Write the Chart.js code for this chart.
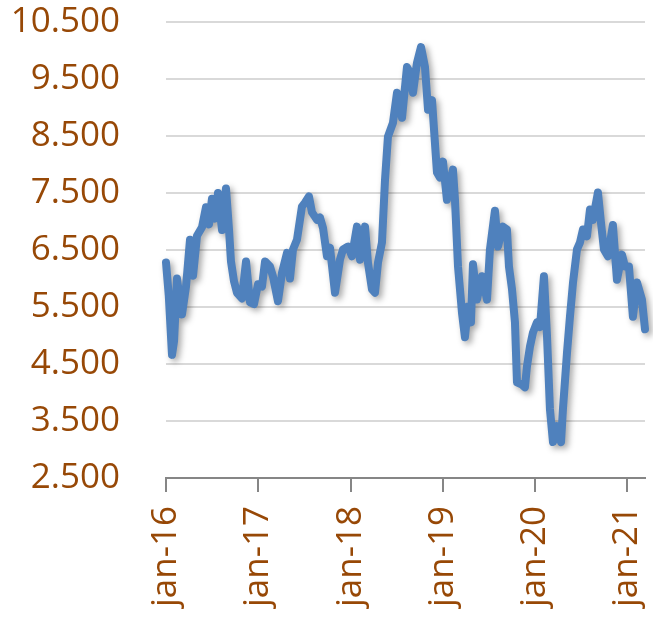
<!DOCTYPE html>
<html>
<head>
<meta charset="utf-8">
<script src="https://cdn.jsdelivr.net/npm/chart.js@4/dist/chart.umd.min.js"></script>
<style>
  html, body { margin: 0; padding: 0; background: #fff; overflow: hidden; }
  #wrap { position: relative; width: 654px; height: 625px; }
</style>
</head>
<body>
<div id="wrap"><canvas id="chart"></canvas></div>
<script>
// x position of each point, in decimal years (2016.00 = jan-16)
const xYears = [
  2016.00, 2016.03, 2016.065, 2016.087, 2016.119, 2016.152, 2016.173, 2016.217, 2016.26, 2016.293,
  2016.336, 2016.39, 2016.433, 2016.466, 2016.498, 2016.531, 2016.563, 2016.607, 2016.65, 2016.683,
  2016.704, 2016.737, 2016.769, 2016.823, 2016.867, 2016.91, 2016.953, 2016.997, 2017.04, 2017.073,
  2017.127, 2017.159, 2017.213, 2017.257, 2017.311, 2017.343, 2017.376, 2017.419, 2017.473, 2017.506,
  2017.549, 2017.582, 2017.636, 2017.668, 2017.701, 2017.744, 2017.777, 2017.831, 2017.885, 2017.918,
  2017.972, 2018.015, 2018.069, 2018.102, 2018.156, 2018.188, 2018.232, 2018.264, 2018.297, 2018.34,
  2018.373, 2018.405, 2018.459, 2018.503, 2018.557, 2018.611, 2018.644, 2018.676, 2018.719, 2018.763,
  2018.806, 2018.839, 2018.882, 2018.936, 2018.969, 2019.001, 2019.044, 2019.077, 2019.109, 2019.131,
  2019.164, 2019.207, 2019.239, 2019.272, 2019.304, 2019.326, 2019.369, 2019.424, 2019.478, 2019.51,
  2019.564, 2019.597, 2019.651, 2019.694, 2019.716, 2019.749, 2019.781, 2019.803, 2019.857, 2019.889,
  2019.911, 2019.944, 2019.976, 2020.019, 2020.052, 2020.095, 2020.128, 2020.16, 2020.193, 2020.236,
  2020.28, 2020.301, 2020.345, 2020.377, 2020.41, 2020.453, 2020.485, 2020.518, 2020.561, 2020.594,
  2020.626, 2020.68, 2020.713, 2020.745, 2020.788, 2020.842, 2020.886, 2020.94, 2020.973, 2021.016,
  2021.059, 2021.103, 2021.157, 2021.19
];

const values = [
  6280, 5700, 4660, 4900, 6000, 5600, 5370, 5860, 6680, 6050,
  6750, 6900, 7250, 6950, 7400, 7050, 7500, 6850, 7580, 6850,
  6300, 5950, 5750, 5650, 6300, 5580, 5550, 5900, 5860, 6300,
  6210, 6035, 5600, 6100, 6450, 6000, 6510, 6680, 7260, 7330,
  7440, 7160, 7030, 7070, 6890, 6390, 6540, 5750, 6330, 6510,
  6560, 6390, 6910, 6330, 6910, 6280, 5810, 5750, 6280, 6630,
  7730, 8490, 8730, 9260, 8820, 9710, 9610, 9260, 9780, 10060,
  9710, 8960, 9130, 7860, 7770, 8050, 7380, 7700, 7910, 7380,
  6210, 5400, 4970, 5510, 5230, 6250, 5630, 6040, 5630, 6510,
  7190, 6560, 6910, 6860, 6210, 5810, 5230, 4180, 4140, 4090,
  4460, 4810, 5050, 5230, 5150, 6040, 5000, 3710, 3130, 3410,
  3130, 3710, 4700, 5330, 5930, 6510, 6630, 6860, 6740, 7210,
  7030, 7510, 6980, 6510, 6390, 6940, 5980, 6420, 6210, 6210,
  5330, 5930, 5630, 5110
];

const yTicks = [2500, 3500, 4500, 5500, 6500, 7500, 8500, 9500, 10500];
const xTicks = [2016, 2017, 2018, 2019, 2020, 2021];

const labelColor = "#974806";
const labelFont = { family: "'Open Sans', 'Noto Sans', sans-serif", size: 35 };

function formatThousands(v) {
  const s = String(Math.round(v));
  return s.replace(/\B(?=(\d{3})+(?!\d))/g, ".");
}

// soft drop shadow under the line, like the office chart
const shadowPlugin = {
  id: "lineShadow",
  beforeDatasetsDraw(chart) {
    const ctx = chart.ctx;
    ctx.save();
    ctx.shadowColor = "rgba(0,0,0,0.35)";
    ctx.shadowBlur = 6;
    ctx.shadowOffsetX = 3;
    ctx.shadowOffsetY = 3;
  },
  afterDatasetsDraw(chart) {
    chart.ctx.restore();
  },
};

function noPadding(scale) {
  scale.paddingTop = 0;
  scale.paddingBottom = 0;
  scale.paddingLeft = 0;
  scale.paddingRight = 0;
}

const points = xYears.map((x, i) => ({ x: x, y: values[i] }));

new Chart(document.getElementById("chart").getContext("2d"), {
  type: "line",
  data: {
    datasets: [
      {
        data: points,
        borderColor: "#4F81BD",
        borderWidth: 8,
        borderJoinStyle: "round",
        borderCapStyle: "round",
        pointRadius: 0,
        tension: 0,
        fill: false,
        clip: 8,
      },
    ],
  },
  options: {
    responsive: true,
    maintainAspectRatio: false,
    animation: false,
    layout: { padding: { top: 22, right: 9, bottom: 0, left: 0 } },
    plugins: { legend: { display: false }, tooltip: { enabled: false } },
    scales: {
      x: {
        type: "linear",
        min: xTicks[0],
        max: xYears[xYears.length - 1],
        afterBuildTicks(scale) {
          scale.ticks = xTicks.map((v) => ({ value: v }));
        },
        afterFit(scale) {
          scale.height = 147;
          noPadding(scale);
        },
        border: { display: true, color: "#868686", width: 2 },
        grid: {
          drawOnChartArea: false,
          drawTicks: true,
          tickLength: 14,
          color: "#868686",
          lineWidth: 2,
        },
        ticks: {
          autoSkip: false,
          minRotation: 90,
          maxRotation: 90,
          padding: 14,
          color: labelColor,
          font: labelFont,
          callback: (v) => "jan-" + String(v - 2000),
        },
      },
      y: {
        min: yTicks[0],
        max: yTicks[yTicks.length - 1],
        afterBuildTicks(scale) {
          scale.ticks = yTicks.map((v) => ({ value: v }));
        },
        afterFit(scale) {
          scale.width = 166;
          noPadding(scale);
        },
        border: { display: false },
        grid: { color: "#D9D9D9", lineWidth: 2, drawTicks: false },
        ticks: {
          padding: 46,
          color: labelColor,
          font: labelFont,
          callback: (v) => formatThousands(v),
        },
      },
    },
  },
  plugins: [shadowPlugin],
});
</script>
</body>
</html>
